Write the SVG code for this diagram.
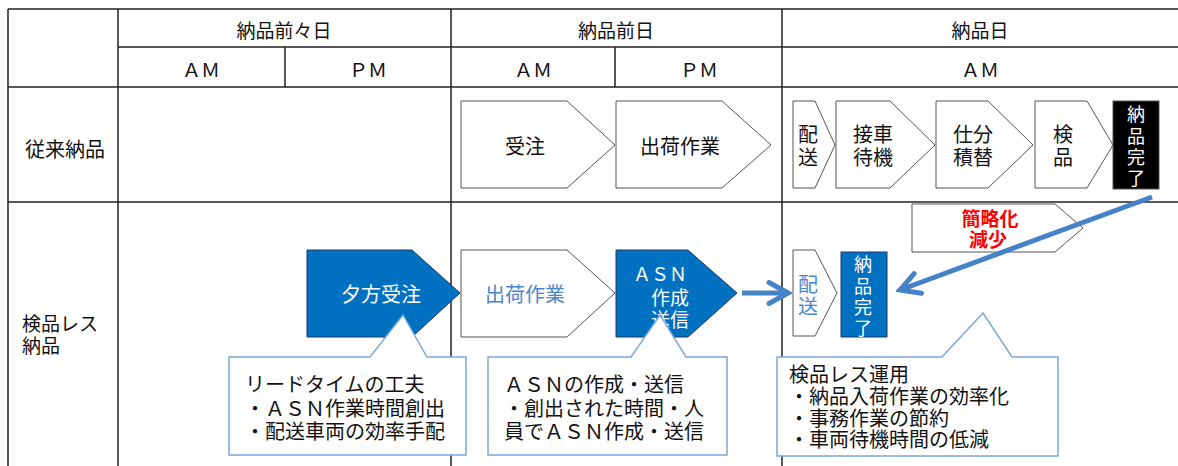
<svg xmlns="http://www.w3.org/2000/svg" width="1178" height="466" viewBox="0 0 1178 466">
<style>
text{font-family:"Noto Sans CJK JP","Noto Sans",sans-serif;font-size:20px;fill:#111;dominant-baseline:central}
.hd{font-size:19px;text-anchor:middle}
.c{text-anchor:middle}
.v{font-size:18px}
.w{fill:#fff}
.b{fill:#4A86C8}
.red{fill:#FF0000;font-weight:bold;font-size:19px}
.grid{stroke:#222;stroke-width:1.5;fill:none}
.wbox{fill:#fff;stroke:#555;stroke-width:1}
.bbox{fill:#0070C0;stroke:#1F3864;stroke-width:1}
.call{fill:#fff;stroke:#7DA7D9;stroke-width:1.5}
.arr{fill:none;stroke:#4682C8;stroke-width:5;marker-end:url(#ah)}
</style>
<defs>
<marker id="ah" markerUnits="userSpaceOnUse" viewBox="-24 -14 28 28" refX="0" refY="0" markerWidth="28" markerHeight="28" orient="auto">
<path d="M-19,-10.5 L0,0 L-19,10.5" fill="none" stroke="#4682C8" stroke-width="5" stroke-linejoin="miter" stroke-linecap="round"/>
</marker>
</defs>
<rect width="1178" height="466" fill="#fff"/>
<g id="grid" class="grid">
<path d="M8,9 H1178 M118,47 H1178 M8,87 H1178 M8,202 H1178"/>
<path d="M8,9 V466 M118,9 V466 M451,9 V466 M782,9 V466 M285,47 V87 M615,47 V87"/>
</g>
<g id="headers">
<text class="hd" x="284" y="29">納品前々日</text>
<text class="hd" x="616" y="29">納品前日</text>
<text class="hd" x="980" y="29">納品日</text>
<text class="hd" x="201" y="68">ＡＭ</text>
<text class="hd" x="368" y="68">ＰＭ</text>
<text class="hd" x="533" y="68">ＡＭ</text>
<text class="hd" x="699" y="68">ＰＭ</text>
<text class="hd" x="980" y="68">ＡＭ</text>
<text x="25" y="148">従来納品</text>
<text x="22" y="322" style="font-size:19px"><tspan x="22" y="322">検品レス</tspan><tspan x="22" y="344">納品</tspan></text>
</g>
<g id="n-juchu">
<path class="wbox" d="M461,101 H567 L615,145 L567,188 H461 Z"/>
<text class="c" x="525" y="145">受注</text>
</g>
<g id="n-shukka1">
<path class="wbox" d="M616,101 H722 L771,145 L722,188 H616 Z"/>
<text class="c" x="680" y="145">出荷作業</text>
</g>
<g id="n-haiso1">
<path class="wbox" d="M793,101 H815 L835,145 L815,188 H793 Z"/>
<text class="c"><tspan x="808" y="133">配</tspan><tspan x="808" y="156">送</tspan></text>
</g>
<g id="n-setsusha">
<path class="wbox" d="M836,101 H890 L935,145 L890,188 H836 Z"/>
<text class="c"><tspan x="873" y="133">接車</tspan><tspan x="873" y="156">待機</tspan></text>
</g>
<g id="n-shiwake">
<path class="wbox" d="M936,101 H988 L1033,145 L988,188 H936 Z"/>
<text class="c"><tspan x="973" y="133">仕分</tspan><tspan x="973" y="156">積替</tspan></text>
</g>
<g id="n-kenpin">
<path class="wbox" d="M1035,101 H1087 L1113,145 L1087,188 H1035 Z"/>
<text class="c"><tspan x="1063" y="133">検</tspan><tspan x="1063" y="156">品</tspan></text>
</g>
<g id="n-kanryo1">
<rect x="1113" y="101" width="46" height="88" fill="#000" stroke="#555" stroke-width="1"/>
<text class="c w v"><tspan x="1136" y="113">納</tspan><tspan x="1136" y="135">品</tspan><tspan x="1136" y="156">完</tspan><tspan x="1136" y="177">了</tspan></text>
</g>
<g id="n-yugata">
<path class="bbox" d="M307,250 H412 L460,293 L412,337 H307 Z"/>
<text class="c w" x="381" y="293">夕方受注</text>
</g>
<g id="n-shukka2">
<path class="wbox" d="M461,250 H567 L615,293 L567,337 H461 Z"/>
<text class="c b" x="525" y="293">出荷作業</text>
</g>
<g id="n-asn">
<path class="bbox" d="M616,250 H688 L737,293 L688,337 H616 Z"/>
<text class="c w" style="font-size:19px"><tspan x="660" y="273" style="font-size:18px">ＡＳＮ</tspan><tspan x="670" y="296">作成</tspan><tspan x="670" y="318">送信</tspan></text>
</g>
<g id="n-haiso2">
<path class="wbox" d="M793,250 H815 L837,293 L815,336 H793 Z"/>
<text class="c b"><tspan x="808" y="283">配</tspan><tspan x="808" y="305">送</tspan></text>
</g>
<g id="n-kanryo2">
<rect class="bbox" x="841" y="252" width="46" height="85"/>
<text class="c w v"><tspan x="863" y="263">納</tspan><tspan x="863" y="285">品</tspan><tspan x="863" y="306">完</tspan><tspan x="863" y="327">了</tspan></text>
</g>
<g id="n-kanryaku">
<path class="wbox" d="M912,204 H1055 L1083,228 L1055,252 H912 Z"/>
<text class="c red"><tspan x="990" y="217">簡略化</tspan><tspan x="988" y="238">減少</tspan></text>
</g>
<g id="connectors">
<path class="arr" d="M742,293 H788"/>
<path class="arr" d="M1152,197 L900,290"/>
</g>
<g id="callout1">
<path class="call" d="M229,357 H370 L403,315 L427,357 H466 V455 H229 Z"/>
<text><tspan x="245" y="383">リードタイムの工夫</tspan><tspan x="245" y="407">・ＡＳＮ作業時間創出</tspan><tspan x="245" y="430">・配送車両の効率手配</tspan></text>
</g>
<g id="callout2">
<path class="call" d="M488,357 H631 L660,315 L686,357 H727 V455 H488 Z"/>
<text><tspan x="504" y="383">ＡＳＮの作成・送信</tspan><tspan x="504" y="407">・創出された時間・人</tspan><tspan x="504" y="430">員でＡＳＮ作成・送信</tspan></text>
</g>
<g id="callout3">
<path class="call" d="M777,357 H942 L983,313 L1012,357 H1058 V456 H777 Z"/>
<text><tspan x="789" y="373">検品レス運用</tspan><tspan x="789" y="395">・納品入荷作業の効率化</tspan><tspan x="789" y="417">・事務作業の節約</tspan><tspan x="789" y="438">・車両待機時間の低減</tspan></text>
</g>
</svg>
